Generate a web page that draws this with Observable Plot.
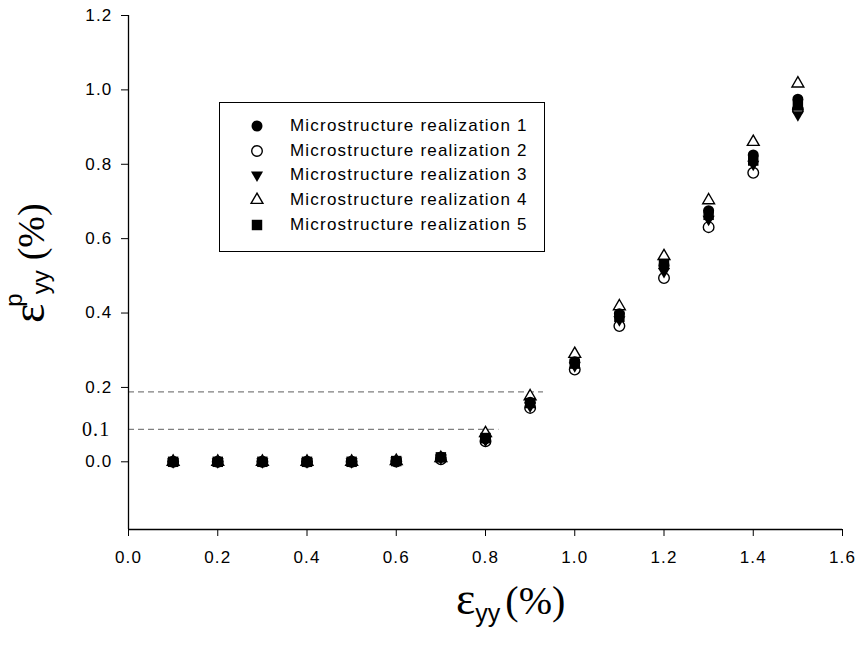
<!DOCTYPE html>
<html>
<head>
<meta charset="utf-8">
<script src="https://cdn.jsdelivr.net/npm/d3@7"></script>
<script src="https://cdn.jsdelivr.net/npm/@observablehq/plot@0.6"></script>
<style>
  html, body { margin: 0; padding: 0; background: white; }
  #wrap { position: relative; width: 860px; height: 650px; }
  #wrap svg text { letter-spacing: 1.2px; }
  #legend { position: absolute; left: 219px; top: 102px; width: 326px; height: 150px;
            border: 1.3px solid black; background: white; box-sizing: border-box;
            font-family: "Liberation Sans", Arial, sans-serif; font-size: 17px; letter-spacing: 1.2px; color: black; }
  .row { position: absolute; left: 0; height: 24px; display: flex; align-items: center; }
  .row svg { margin-left: 28px; }
  .row span { margin-left: 24px; }
</style>
</head>
<body>
<div id="wrap"></div>
<script>
// ---- data ----
const strain = [0.1, 0.2, 0.3, 0.4, 0.5, 0.6, 0.7, 0.8, 0.9, 1.0, 1.1, 1.2, 1.3, 1.4, 1.5];
const real1 = [0, 0, 0, 0, 0, 0.002, 0.013, 0.062, 0.160, 0.269, 0.398, 0.528, 0.675, 0.825, 0.975];
const real2 = [0, 0, 0, 0, 0, 0.001, 0.007, 0.055, 0.145, 0.248, 0.365, 0.494, 0.631, 0.777, 0.947];
const real3 = [0, 0, 0, 0, 0, 0.002, 0.010, 0.058, 0.150, 0.258, 0.382, 0.512, 0.652, 0.800, 0.933];
const real4 = [0, 0, 0, 0, 0, 0.002, 0.010, 0.077, 0.176, 0.290, 0.418, 0.553, 0.703, 0.860, 1.017];
const real5 = [0, 0, 0, 0, 0, 0.002, 0.012, 0.064, 0.158, 0.264, 0.390, 0.532, 0.664, 0.810, 0.958];
const seriesNames = ["Microstructure realization 1", "Microstructure realization 2", "Microstructure realization 3",
                     "Microstructure realization 4", "Microstructure realization 5"];
const xTicks = [0, 0.2, 0.4, 0.6, 0.8, 1.0, 1.2, 1.4, 1.6];
const yTicks = [0, 0.2, 0.4, 0.6, 0.8, 1.0, 1.2];
// dashed reference lines: level and x extent
const refLevels = [0.188, 0.087];
const refEnds = [0.93, 0.83];
const refLabel = "0.1";

// ---- symbols ----
const triangleDown = {
  draw(context, size) {
    const y = -Math.sqrt(size / (Math.sqrt(3) * 3));
    context.moveTo(0, -2 * y);
    context.lineTo(-Math.sqrt(3) * y, y);
    context.lineTo(Math.sqrt(3) * y, y);
    context.closePath();
  }
};
const styles = [
  {symbol: "circle", r: 5.5, fill: "black", stroke: "none"},
  {symbol: "circle", r: 5.3, fill: "white", stroke: "black", strokeWidth: 1.4},
  {symbol: triangleDown, r: 4.5, fill: "black", stroke: "none"},
  {symbol: "triangle", r: 4.4, fill: "white", stroke: "black", strokeWidth: 1.4},
  {symbol: "square", r: 5.9, fill: "black", stroke: "none"}
];
const seriesValues = [real1, real2, real3, real4, real5];
const tables = seriesValues.map(vals => strain.map((x, i) => ({x, y: vals[i]})));
const yMin = -0.182;
const refs = refLevels.map((y, i) => ({y, x2: refEnds[i]}));

const drawOrder = [1, 3, 0, 2, 4];
const dotMarks = drawOrder.map(k => Plot.dot(tables[k], {x: "x", y: "y", ...styles[k]}));

const chart = Plot.plot({
  width: 860, height: 650,
  marginLeft: 128, marginRight: 18, marginTop: 15, marginBottom: 121,
  style: {fontFamily: "Liberation Sans, Arial, sans-serif", fontSize: "17px", color: "black", background: "white", overflow: "visible"},
  x: {domain: [0, 1.6]},
  y: {domain: [yMin, 1.2]},
  marks: [
    Plot.ruleY(refs, {y: "y", x1: 0, x2: "x2", stroke: "#7f7f7f", strokeWidth: 1.2, strokeDasharray: "6,4"}),
    Plot.text([{y: refLevels[1], t: refLabel}], {x: 0, y: "y", text: "t", dx: -18, textAnchor: "end",
      fontFamily: "Liberation Serif, Times New Roman, serif", fontSize: 20, fill: "black"}),
    ...dotMarks,
    Plot.ruleX([0], {stroke: "black", strokeWidth: 1.3}),
    Plot.ruleY([yMin], {stroke: "black", strokeWidth: 1.3}),
    Plot.axisX({ticks: xTicks, tickSize: 7, tickPadding: 14, fontSize: 17, tickFormat: d3.format(".1f"), label: null}),
    Plot.axisY({ticks: yTicks, tickSize: 7, tickPadding: 9, fontSize: 17, tickFormat: d3.format(".1f"), label: null})
  ]
});
document.getElementById("wrap").appendChild(chart);

// ---- axis titles ----
const svg = d3.select(chart);
const serif = "Liberation Serif, Times New Roman, serif";
const sans = "Liberation Sans, Arial, sans-serif";
const xl = svg.append("text").attr("x", 456).attr("y", 614).attr("fill", "black")
  .attr("text-anchor", "start").style("letter-spacing", "0px");
xl.append("tspan").attr("font-family", serif).attr("font-size", 46).text("ε");
xl.append("tspan").attr("font-family", sans).attr("font-size", 25).attr("dy", 8).text("yy");
xl.append("tspan").attr("font-family", serif).attr("font-size", 40).attr("dy", -8).attr("dx", 5).text("(%)");

const yl = svg.append("text").attr("transform", "translate(44,323) rotate(-90)").attr("fill", "black")
  .attr("text-anchor", "start").style("letter-spacing", "0px");
yl.append("tspan").attr("font-family", serif).attr("font-size", 46).text("ε");
yl.append("tspan").attr("font-family", sans).attr("font-size", 24).attr("dy", -22).attr("dx", -3).text("p");
yl.append("tspan").attr("font-family", sans).attr("font-size", 24).attr("dy", 27).attr("dx", -1).text("yy");
yl.append("tspan").attr("font-family", serif).attr("font-size", 38).attr("dy", -5).attr("dx", 10).text("(%)");

// ---- legend ----
const legend = document.createElement("div");
legend.id = "legend";
seriesNames.forEach((name, k) => {
  const row = document.createElement("div");
  row.className = "row";
  row.style.top = (11 + k * 24.7) + "px";
  const s = styles[k];
  const sym = typeof s.symbol === "string" ? {circle: d3.symbolCircle, triangle: d3.symbolTriangle, square: d3.symbolSquare}[s.symbol] : s.symbol;
  const path = d3.symbol(sym, Math.PI * s.r * s.r)();
  row.innerHTML = `<svg width="18" height="18" viewBox="-9 -9 18 18"><path d="${path}" fill="${s.fill}" stroke="${s.stroke}" stroke-width="${s.strokeWidth || 0}"/></svg><span>${name}</span>`;
  legend.appendChild(row);
});
document.getElementById("wrap").appendChild(legend);
</script>
</body>
</html>
